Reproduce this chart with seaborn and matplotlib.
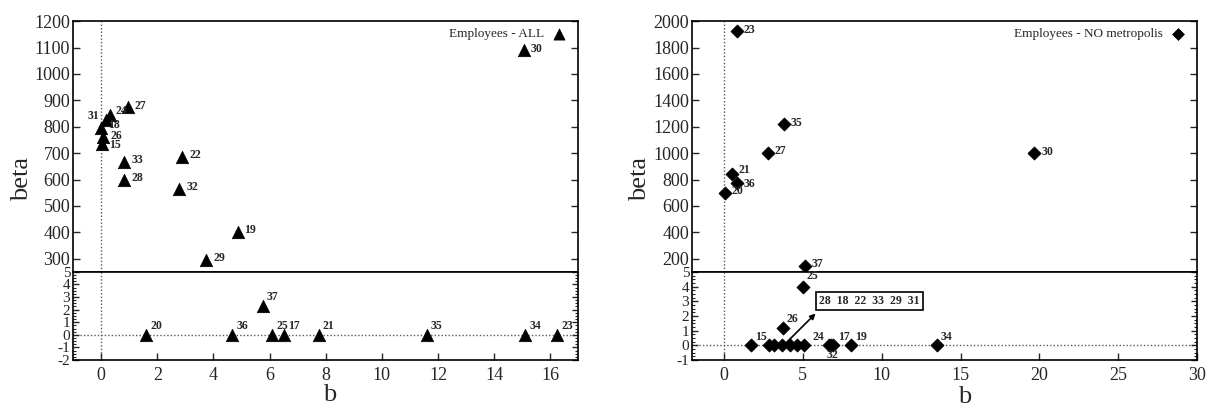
import numpy as np
import pandas as pd
import matplotlib
matplotlib.use('Agg')
from matplotlib import pyplot as plt
from matplotlib.ticker import MultipleLocator
import seaborn as sns

# Left panel: Employees - ALL
all_labels = ['30', '24', '27', '31', '18', '26', '15', '33', '28', '22', '32', '19', '29',
              '37', '20', '36', '25', '17', '21', '35', '34', '23']
all_b = [15.05, 0.32, 0.96, 0.18, 0.0, 0.07, 0.03, 0.82, 0.82, 2.89, 2.79, 4.86, 3.75,
         5.75, 1.6, 4.68, 6.1, 6.5, 7.75, 11.6, 15.1, 16.25]
all_beta = [1090, 845, 875, 826, 795, 761, 735, 667, 599, 686, 565, 402, 296,
            2.3, 0, 0, 0, 0, 0, 0, 0, 0]

# Right panel: Employees - NO metropolis
nom_labels = ['23', '35', '27', '21', '36', '20', '30', '37',
              '25', '26', '15', '24', '17', '32', '19', '34']
nom_b = [0.82, 3.8, 2.8, 0.51, 0.82, 0.06, 19.67, 5.14,
         5.0, 3.74, 1.71, 6.7, 6.9, 6.8, 8.06, 13.5]
nom_beta = [1924, 1221, 1002, 843, 775, 699, 1000, 147,
            4.0, 1.2, 0, 0, 0, 0, 0, 0]

# group of points at zero listed in the box
grp_labels = ['28', '18', '22', '33', '29', '31']
grp_b = [2.87, 3.17, 3.68, 4.2, 4.63, 5.1]
grp_beta = [0, 0, 0, 0, 0, 0]

sns.set_style('ticks')
plt.rcParams['font.family'] = ['Liberation Serif', 'DejaVu Serif']
plt.rcParams['axes.unicode_minus'] = False
plt.rcParams['xtick.direction'] = 'in'
plt.rcParams['ytick.direction'] = 'in'
plt.rcParams['axes.linewidth'] = 1.2

fig = plt.figure(figsize=(12.09, 4.07), dpi=100)
W = 0.418
dot = (0, (1, 1.5))


def panel(x0, labels, b, beta, marker, size, legend, up_lim, up_step, lo_lim, xlim, xstep, special):
    df = pd.DataFrame({'label': labels, 'b': b, 'beta': beta})
    ax_up = fig.add_axes([x0, 0.332, W, 0.616])
    ax_lo = fig.add_axes([x0, 0.1155, W, 0.2165])
    top = df[df['beta'] > lo_lim[1]]
    bot = df[df['beta'] <= lo_lim[1]]

    sns.scatterplot(data=top, x='b', y='beta', marker=marker, s=size, color='black',
                    edgecolor='black', linewidth=0.5, ax=ax_up, label=legend)
    sns.scatterplot(data=bot, x='b', y='beta', marker=marker, s=size, color='black',
                    edgecolor='black', linewidth=0.5, ax=ax_lo, legend=False)

    for ax in (ax_up, ax_lo):
        ax.set_xlim(*xlim)
        ax.axvline(0, color='0.35', lw=1, ls=dot, zorder=0)
        ax.set_xlabel('')
        ax.set_ylabel('')
        for s in ax.spines.values():
            s.set_color('black')
    ax_lo.axhline(0, color='0.35', lw=1, ls=dot, zorder=0)

    ax_up.set_ylim(*up_lim)
    ax_up.yaxis.set_major_locator(MultipleLocator(up_step))
    ax_up.tick_params(axis='x', bottom=False, labelbottom=False)
    ax_up.tick_params(axis='y', right=True, length=5, width=1, labelsize=13, pad=2)

    ax_lo.set_ylim(*lo_lim)
    ax_lo.yaxis.set_major_locator(MultipleLocator(1))
    ax_lo.yaxis.set_minor_locator(MultipleLocator(0.25))
    ax_lo.xaxis.set_major_locator(MultipleLocator(xstep))
    ax_lo.tick_params(axis='y', which='major', right=True, length=4, width=1, labelsize=11, pad=2)
    ax_lo.tick_params(axis='y', which='minor', left=True, right=True, length=2, width=0.8)
    ax_lo.tick_params(axis='x', length=5, width=1, labelsize=13, pad=5)

    for _, r in df.iterrows():
        ax = ax_up if r['beta'] > lo_lim[1] else ax_lo
        if r['label'] in special:
            off, ha, va = special[r['label']]
        elif ax is ax_up:
            off, ha, va = (5, 1), 'left', 'center'
        else:
            off, ha, va = (3, 2), 'left', 'bottom'
        ax.annotate(r['label'], (r['b'], r['beta']), xytext=off, textcoords='offset points',
                    ha=ha, va=va, fontsize=8.5, fontweight='bold')

    ax_up.legend(loc='upper right', markerfirst=False, frameon=False, handletextpad=0.1,
                 borderaxespad=0.1, prop={'size': 9.5}, markerscale=0.9)
    return ax_up, ax_lo


panel(0.0604, all_labels, all_b, all_beta, '^', 80, 'Employees - ALL',
      (250, 1200), 100, (-2, 5), (-1, 17), 2,
      {'31': ((-5, 3), 'right', 'center'),
       '24': ((4, 3), 'left', 'center'),
       '18': ((5, 2), 'left', 'center'),
       '15': ((5, -1), 'left', 'center')})

ax_up2, ax_lo2 = panel(0.5724, nom_labels, nom_b, nom_beta, 'D', 45, 'Employees - NO metropolis',
                       (100, 2000), 200, (-1, 5), (-2, 30), 5,
                       {'21': ((5, 3), 'left', 'center'),
                        '36': ((5, -1), 'left', 'center'),
                        '24': ((-4, 2), 'right', 'bottom'),
                        '17': ((4, 2), 'left', 'bottom'),
                        '32': ((1, -3), 'center', 'top'),
                        '25': ((3, 3), 'left', 'bottom')})

sns.scatterplot(x=grp_b, y=grp_beta, marker='D', s=45, color='black', edgecolor='black',
                linewidth=0.5, ax=ax_lo2, legend=False)
ax_lo2.text(6.05, 2.6, '  '.join(grp_labels), fontsize=8.5, fontweight='bold', ha='left', va='bottom',
            bbox=dict(boxstyle='square,pad=0.25', fc='white', ec='black', lw=1.2))
ax_lo2.annotate('', xy=(5.95, 2.3), xytext=(3.85, 0.05),
                arrowprops=dict(arrowstyle='-|>', color='black', lw=1.2, mutation_scale=8))

fig.text(0.018, 0.56, 'beta', rotation=90, fontsize=19, ha='center', va='center')
fig.text(0.529, 0.56, 'beta', rotation=90, fontsize=19, ha='center', va='center')
fig.text(0.273, 0.03, 'b', fontsize=19, ha='center', va='center')
fig.text(0.798, 0.025, 'b', fontsize=19, ha='center', va='center')

fig.savefig('out.png', dpi=100)
